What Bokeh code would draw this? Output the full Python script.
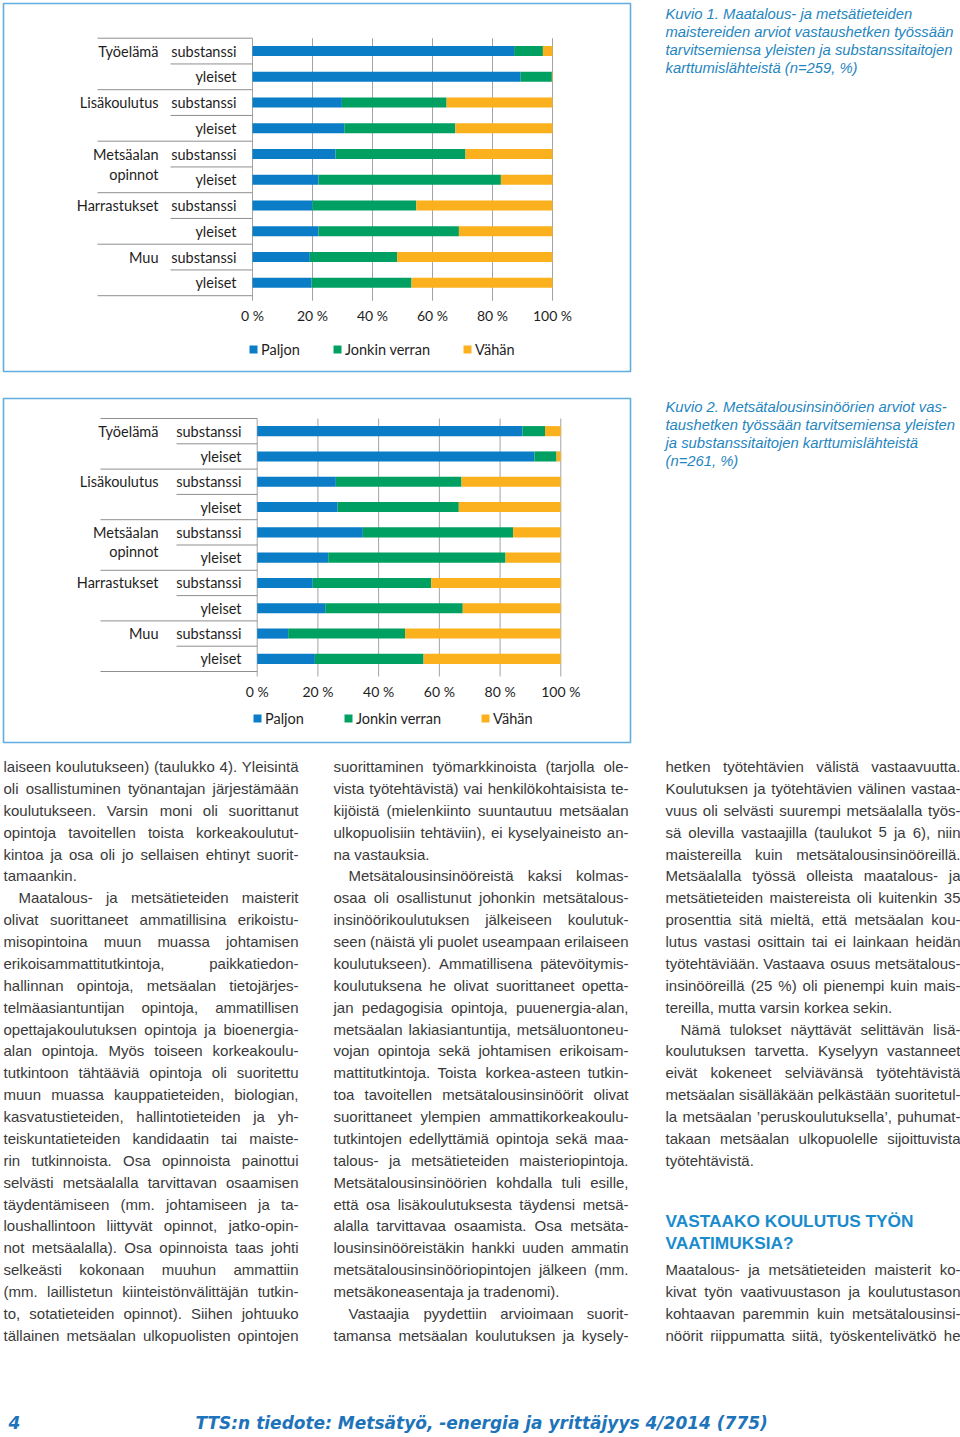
from bokeh.plotting import figure
from bokeh.models import Range1d, Legend, LegendItem, ColumnDataSource
from bokeh.core.properties import value
from bokeh.embed import file_html
from bokeh.resources import INLINE

# ---------------- data ----------------
groups = ["Työelämä", "Lisäkoulutus", "Metsäalan opinnot", "Harrastukset", "Muu"]
subgroups = ["substanssi", "yleiset"]
series = ["Paljon", "Jonkin verran", "Vähän"]
tick_values = [0, 20, 40, 60, 80, 100]
tick_labels = ["0 %", "20 %", "40 %", "60 %", "80 %", "100 %"]

# Kuvio 1 (n=259), rows: group x (substanssi, yleiset)
k1_paljon = [87.2, 89.4, 29.8, 30.6, 27.7, 22.0, 20.0, 22.0, 19.1, 19.7]
k1_jonkin = [9.6, 10.4, 34.9, 37.0, 43.3, 60.8, 34.6, 46.8, 29.1, 33.3]
k1_vahan = [3.2, 0.2, 35.3, 32.4, 29.0, 17.2, 45.4, 31.2, 51.8, 47.0]

# Kuvio 2 (n=261)
k2_paljon = [87.4, 91.3, 25.9, 26.5, 34.8, 23.4, 18.3, 22.4, 10.2, 19.0]
k2_jonkin = [7.4, 7.3, 41.4, 39.9, 49.5, 58.4, 39.0, 45.3, 38.5, 35.8]
k2_vahan = [5.2, 1.4, 32.7, 33.6, 15.7, 18.2, 42.7, 32.3, 51.3, 45.2]

caption1 = ["Kuvio 1. Maatalous- ja metsätieteiden",
            "maistereiden arviot vastaushetken työssään",
            "tarvitsemiensa yleisten ja substanssitaitojen",
            "karttumislähteistä  (n=259, %)"]
caption2 = ["Kuvio 2. Metsätalousinsinöörien arviot vas-",
            "taushetken työssään tarvitsemiensa yleisten",
            "ja substanssitaitojen karttumislähteistä",
            "(n=261, %)"]

col1 = [
    "laiseen koulutukseen) (taulukko 4). Yleisintä",
    "oli osallistuminen työnantajan järjestämään",
    "koulutukseen. Varsin moni oli suorittanut",
    "opintoja tavoitellen toista korkeakoulutut-",
    "kintoa ja osa oli jo sellaisen ehtinyt suorit-",
    "tamaankin.|",
    "\tMaatalous- ja metsätieteiden maisterit",
    "olivat suorittaneet ammatillisina erikoistu-",
    "misopintoina muun muassa johtamisen",
    "erikoisammattitutkintoja, paikkatiedon-",
    "hallinnan opintoja, metsäalan tietojärjes-",
    "telmäasiantuntijan opintoja, ammatillisen",
    "opettajakoulutuksen opintoja ja bioenergia-",
    "alan opintoja. Myös toiseen korkeakoulu-",
    "tutkintoon tähtääviä opintoja oli suoritettu",
    "muun muassa kauppatieteiden, biologian,",
    "kasvatustieteiden, hallintotieteiden ja yh-",
    "teiskuntatieteiden kandidaatin tai maiste-",
    "rin tutkinnoista. Osa opinnoista painottui",
    "selvästi metsäalalla tarvittavan osaamisen",
    "täydentämiseen (mm. johtamiseen ja ta-",
    "loushallintoon liittyvät opinnot, jatko-opin-",
    "not metsäalalla). Osa opinnoista taas johti",
    "selkeästi kokonaan muuhun ammattiin",
    "(mm. laillistetun kiinteistönvälittäjän tutkin-",
    "to, sotatieteiden opinnot). Siihen johtuuko",
    "tällainen metsäalan ulkopuolisten opintojen",
]
col2 = [
    "suorittaminen työmarkkinoista (tarjolla ole-",
    "vista työtehtävistä) vai henkilökohtaisista te-",
    "kijöistä (mielenkiinto suuntautuu metsäalan",
    "ulkopuolisiin tehtäviin), ei kyselyaineisto an-",
    "na vastauksia.|",
    "\tMetsätalousinsinööreistä kaksi kolmas-",
    "osaa oli osallistunut johonkin metsätalous-",
    "insinöörikoulutuksen jälkeiseen koulutuk-",
    "seen (näistä yli puolet useampaan erilaiseen",
    "koulutukseen). Ammatillisena pätevöitymis-",
    "koulutuksena he olivat suorittaneet opetta-",
    "jan pedagogisia opintoja, puuenergia-alan,",
    "metsäalan lakiasiantuntija, metsäluontoneu-",
    "vojan opintoja sekä johtamisen erikoisam-",
    "mattitutkintoja. Toista korkea-asteen tutkin-",
    "toa tavoitellen metsätalousinsinöörit olivat",
    "suorittaneet ylempien ammattikorkeakoulu-",
    "tutkintojen edellyttämiä opintoja sekä maa-",
    "talous- ja metsätieteiden maisteriopintoja.",
    "Metsätalousinsinöörien kohdalla tuli esille,",
    "että osa lisäkoulutuksesta täydensi metsä-",
    "alalla tarvittavaa osaamista. Osa metsäta-",
    "lousinsinööreistäkin hankki uuden ammatin",
    "metsätalousinsinööriopintojen jälkeen (mm.",
    "metsäkoneasentaja ja tradenomi).|",
    "\tVastaajia pyydettiin arvioimaan suorit-",
    "tamansa metsäalan koulutuksen ja kysely-",
]
col3a = [
    "hetken työtehtävien välistä vastaavuutta.",
    "Koulutuksen ja työtehtävien välinen vastaa-",
    "vuus oli selvästi suurempi metsäalalla työs-",
    "sä olevilla vastaajilla (taulukot 5 ja 6), niin",
    "maistereilla kuin metsätalousinsinööreillä.",
    "Metsäalalla työssä olleista maatalous- ja",
    "metsätieteiden maistereista oli kuitenkin 35",
    "prosenttia sitä mieltä, että metsäalan kou-",
    "lutus vastasi osittain tai ei lainkaan heidän",
    "työtehtäviään. Vastaava osuus metsätalous-",
    "insinööreillä (25 %) oli pienempi kuin mais-",
    "tereilla, mutta varsin korkea sekin.|",
    "\tNämä tulokset näyttävät selittävän lisä-",
    "koulutuksen tarvetta. Kyselyyn vastanneet",
    "eivät kokeneet selviävänsä työtehtävistä",
    "metsäalan sisälläkään pelkästään suoritetul-",
    "la metsäalan ’peruskoulutuksella’, puhumat-",
    "takaan metsäalan ulkopuolelle sijoittuvista",
    "työtehtävistä.|",
]
heading = ["VASTAAKO KOULUTUS TYÖN", "VAATIMUKSIA?"]
col3b = [
    "Maatalous- ja metsätieteiden maisterit ko-",
    "kivat työn vaativuustason ja koulutustason",
    "kohtaavan paremmin kuin metsätalousinsi-",
    "nöörit riippumatta siitä, työskentelivätkö he",
]
footer_page = "4"
footer_text = "TTS:n tiedote: Metsätyö, -energia ja yrittäjyys 4/2014 (775)"

# ---------------- styles ----------------
C_BLUE, C_GREEN, C_ORANGE = "#0b7cc6", "#00a062", "#fbb11d"
bar_colors = [C_BLUE, C_GREEN, C_ORANGE]
BOX = "#62ade0"
CAP = "#1f86bf"
HEAD = "#1a8bcd"
BODY = "#3a3a3a"
LAB = "#1e1e1e"
FOOT = "#1d74ba"
CHART_FONT = "Lato"
LAB_SIZE = "14.5px"

# page: reference pixel coordinates mapped 1:1 onto the figure
PW, PH = 960, 1437
RX0, RX1 = 0, 960
RY0, RY1 = 0, 1437

p = figure(width=PW, height=PH, x_range=Range1d(RX0, RX1), y_range=Range1d(RY1, RY0),
           toolbar_location=None, output_backend="svg",
           x_axis_location=None, y_axis_location=None, min_border=0,
           outline_line_color=None, background_fill_color="white",
           border_fill_color="white")
p.xgrid.visible = False
p.ygrid.visible = False


def draw_chart(key, vals, geo):
    x0, x100 = geo["x0"], geo["x100"]
    ytop, rowh = geo["ytop"], geo["rowh"]
    fx = lambda rx: (rx - x0) * 100.0 / (x100 - x0)
    fy = lambda ry: (ry - ytop) / rowh
    xn, yn = key + "x", key + "y"
    p.extra_x_ranges[xn] = Range1d(fx(RX0), fx(RX1))
    p.extra_y_ranges[yn] = Range1d(fy(RY1), fy(RY0))

    # frame box
    bx = geo["box"]
    p.quad(left=[bx[0]], right=[bx[1]], top=[bx[2]], bottom=[bx[3]],
           fill_color=None, line_color=BOX, line_width=1.6)

    n = len(groups) * len(subgroups)
    yc = [i + 0.5 for i in range(n)]
    # grid lines and axis line
    ext = 5.0 / rowh
    p.segment(x0=tick_values, x1=tick_values, y0=[0] * len(tick_values),
              y1=[n + ext] * len(tick_values), line_color="#a3a3a3", line_width=1,
              x_range_name=xn, y_range_name=yn)
    # table separator lines on the category side
    bounds = list(range(n + 1))
    xs0 = [geo["gleft"] if b % len(subgroups) == 0 else geo["sleft"] for b in bounds]
    p.segment(x0=xs0, x1=[x0] * len(bounds), y0=bounds, y1=bounds,
              line_color="#8f8f8f", line_width=1, y_range_name=yn)

    # stacked bars
    lefts = [0.0] * n
    rends = []
    for s_i, vals_s in enumerate(vals):
        rights = [l + v for l, v in zip(lefts, vals_s)]
        src = ColumnDataSource(dict(y=yc, left=lefts, right=rights))
        r = p.hbar(y="y", left="left", right="right", height=geo["barh"], source=src,
                   fill_color=bar_colors[s_i], line_color=None,
                   x_range_name=xn, y_range_name=yn)
        rends.append(r)
        lefts = rights

    # sub labels
    sub_text = [s for g in groups for s in subgroups]
    p.text(x=[geo["sright"]] * n, y=yc, text=sub_text, text_align="right",
           text_baseline="middle", text_font=value(CHART_FONT),
           text_font_size=value(LAB_SIZE), text_color=LAB, y_range_name=yn)
    # group labels
    gx, gy, gt = [], [], []
    for g_i, g in enumerate(groups):
        for j, part in enumerate(g.split(" ")):
            gx.append(geo["gright"])
            gy.append(g_i * len(subgroups) + 0.5 + j * geo["gline"] / rowh)
            gt.append(part)
    p.text(x=gx, y=gy, text=gt, text_align="right", text_baseline="middle",
           text_font=value(CHART_FONT), text_font_size=value(LAB_SIZE),
           text_color=LAB, y_range_name=yn)
    # tick labels
    p.text(x=tick_values, y=[geo["ticky"]] * len(tick_values), text=tick_labels,
           text_align="center", text_baseline="middle", text_font=value(CHART_FONT),
           text_font_size=value("14px"), text_color=LAB, x_range_name=xn)

    # legend
    lx = geo["legx"] - 1 - RX0
    ly = RY1 - (geo["legy"] + 9)
    leg = Legend(items=[LegendItem(label=series[k], renderers=[rends[k]]) for k in range(3)],
                 orientation="horizontal", location=(lx, ly), glyph_width=10,
                 glyph_height=10, label_height=18, label_standoff=3,
                 spacing=geo["legsp"], padding=0, margin=0,
                 border_line_color=None, background_fill_alpha=0,
                 label_text_font=CHART_FONT, label_text_font_size="14.5px",
                 label_text_color=LAB, label_text_baseline="middle")
    p.add_layout(leg)


draw_chart("k1", [k1_paljon, k1_jonkin, k1_vahan],
           dict(x0=252.0, x100=552.0, ytop=37.7, rowh=25.75, barh=0.39,
                box=(3, 630, 3, 371), gleft=97, sleft=170, sright=236,
                gright=158, gline=20, ticky=315, legx=249, legy=349, legsp=32))
draw_chart("k2", [k2_paljon, k2_jonkin, k2_vahan],
           dict(x0=256.7, x100=560.3, ytop=418.0, rowh=25.3, barh=0.4,
                box=(3, 630, 398, 742), gleft=100, sleft=176, sright=241,
                gright=158, gline=19, ticky=691, legx=253, legy=718, legsp=39))

# ---------------- captions ----------------
CAP_SIZE = 14.8
for lines, y0 in ((caption1, 13), (caption2, 406)):
    p.text(x=[665] * len(lines), y=[y0 + 18.3 * i for i in range(len(lines))],
           text=lines, text_font=value("Liberation Sans"), text_font_style="italic",
           text_font_size=value(f"{CAP_SIZE}px"), text_color=CAP,
           text_baseline="alphabetic", text_align="left")

# ---------------- body text (justified) ----------------
ARIAL = {" ": 278, "%": 889, "’": 222, "(": 333, ")": 333, ",": 278, "-": 333,
         ".": 278, "/": 278, ":": 278, "?": 556, "=": 584,
         "A": 667, "B": 667, "C": 722, "D": 722, "E": 667, "F": 611, "G": 778,
         "H": 722, "I": 278, "J": 500, "K": 667, "L": 556, "M": 833, "N": 722,
         "O": 778, "P": 667, "R": 722, "S": 667, "T": 611, "U": 722, "V": 667,
         "Y": 667, "Ö": 778, "Ä": 667,
         "a": 556, "b": 556, "c": 500, "d": 556, "e": 556, "f": 278, "g": 556,
         "h": 556, "i": 222, "j": 222, "k": 500, "l": 222, "m": 833, "n": 556,
         "o": 556, "p": 556, "q": 556, "r": 333, "s": 500, "t": 278, "u": 556,
         "v": 500, "w": 722, "x": 500, "y": 500, "z": 500, "ä": 556, "ö": 556}
BODY_SIZE = 15.0
LINE0, LSTEP = 767.0, 21.88
COLW = 295.0
INDENT = 15.0


def tw(s):
    return sum(ARIAL.get(c, 556) for c in s) / 1000.0 * BODY_SIZE


bl_x, bl_y, bl_t = [], [], []   # left aligned pieces
br_x, br_y, br_t = [], [], []   # right aligned (last word of justified lines)


def place(lines, left, first_index):
    for i, raw in enumerate(lines):
        indent = raw.startswith("\t")
        last = raw.endswith("|")
        s = raw.strip("\t|")
        x = left + (INDENT if indent else 0)
        avail = COLW - (INDENT if indent else 0)
        y = LINE0 + LSTEP * (first_index + i) - 1.0
        words = s.split()
        if last or len(words) < 2:
            bl_x.append(x); bl_y.append(y); bl_t.append(" ".join(words))
            continue
        ww = [tw(w) for w in words]
        gap = (avail - sum(ww)) / (len(words) - 1)
        cx = x
        for w, wv in zip(words[:-1], ww[:-1]):
            bl_x.append(cx); bl_y.append(y); bl_t.append(w)
            cx += wv + gap
        br_x.append(left + COLW); br_y.append(y); br_t.append(words[-1])


place(col1, 3, 0)
place(col2, 333, 0)
place(col3a, 665, 0)
place(col3b, 665, 23)

for xs, ys, ts, al in ((bl_x, bl_y, bl_t, "left"), (br_x, br_y, br_t, "right")):
    p.text(x=xs, y=ys, text=ts, text_font=value("Liberation Sans"),
           text_font_size=value(f"{BODY_SIZE}px"), text_color=BODY,
           text_align=al, text_baseline="alphabetic")

# heading
p.text(x=[665, 665], y=[1220, 1242], text=heading,
       text_font=value("Liberation Sans"), text_font_style="bold",
       text_font_size=value("17.3px"), text_color=HEAD, text_baseline="alphabetic")

# footer
p.text(x=[8], y=[1422], text=[footer_page], text_font=value("DejaVu Sans"),
       text_font_style="bold italic", text_font_size=value("17px"),
       text_color=FOOT, text_baseline="alphabetic")
p.text(x=[195], y=[1422], text=[footer_text], text_font=value("DejaVu Sans"),
       text_font_style="bold italic", text_font_size=value("17px"),
       text_color=FOOT, text_baseline="alphabetic")

open("out.html", "w").write(file_html(p, INLINE))
